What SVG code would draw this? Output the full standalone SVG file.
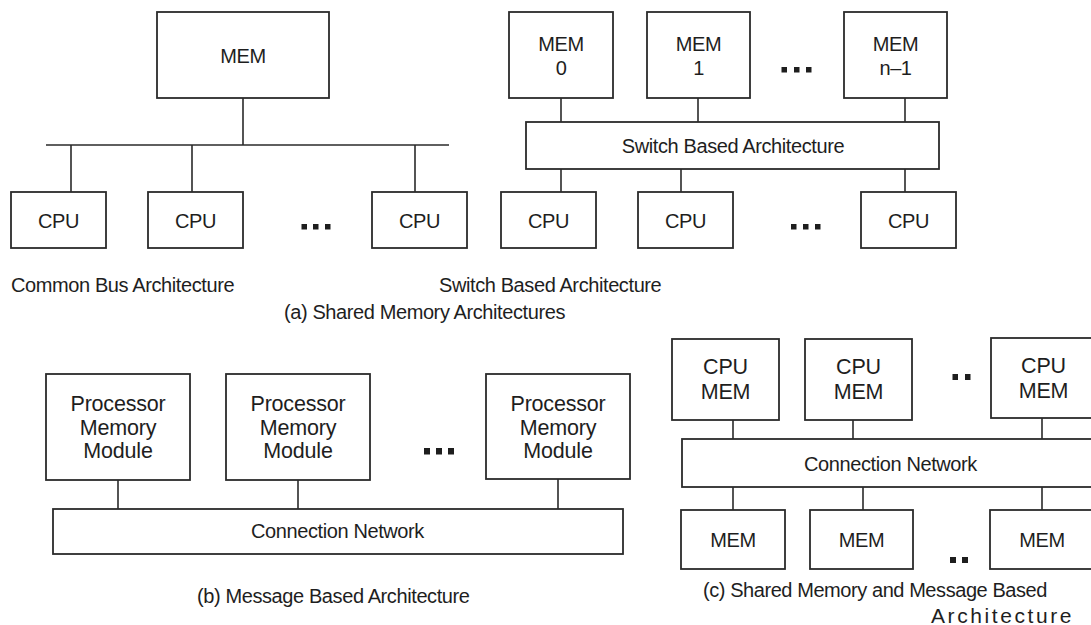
<svg xmlns="http://www.w3.org/2000/svg" width="1091" height="625" viewBox="0 0 1091 625">
  <style>
    .box { fill: #ffffff; stroke: #2b2b2b; stroke-width: 1.8; }
    .wire { fill: none; stroke: #2b2b2b; stroke-width: 1.6; }
    .dot { fill: #1e1e1e; }
    text { font-family: "Liberation Sans", Arial, Helvetica, sans-serif; fill: #1e1e1e; font-size: 20px; letter-spacing: -0.4px; }
    .c { text-anchor: middle; }
    .big { font-size: 21.5px; letter-spacing: -0.2px; }
  </style>
  <rect width="1091" height="625" fill="#ffffff"/>

  <!-- connectors -->
  <g id="connectors" class="wire">
    <!-- common bus -->
    <path d="M243 98V145 M46 145H449 M71 145V192 M192 145V192 M415 145V192"/>
    <!-- switch based -->
    <path d="M561 98V122 M698 98V122 M905 98V122 M561 169V192 M681 169V192 M905 169V192"/>
    <!-- message based -->
    <path d="M118 480V509 M298 480V509 M558 479V509"/>
    <!-- shared memory and message based -->
    <path d="M733 420V439 M853 420V439 M1042 418V439 M733 487V510 M863 487V510 M1042 487V510"/>
  </g>

  <!-- (a) common bus architecture -->
  <g id="bus-mem"><rect class="box" x="157" y="12" width="172" height="86"/><text class="c" x="243" y="63">MEM</text></g>
  <g id="bus-cpu-1"><rect class="box" x="11" y="192" width="95" height="56"/><text class="c" x="58.5" y="228">CPU</text></g>
  <g id="bus-cpu-2"><rect class="box" x="148" y="192" width="95" height="56"/><text class="c" x="195.5" y="228">CPU</text></g>
  <g id="bus-cpu-n"><rect class="box" x="372" y="192" width="95" height="56"/><text class="c" x="419.5" y="228">CPU</text></g>
  <g id="bus-dots"><rect class="dot" x="301.5" y="224" width="5.5" height="5.5"/><rect class="dot" x="313" y="224" width="5.5" height="5.5"/><rect class="dot" x="325" y="224" width="5.5" height="5.5"/></g>
  <text x="11" y="292">Common Bus Architecture</text>

  <!-- (a) switch based architecture -->
  <g id="sw-mem-0"><rect class="box" x="509" y="12" width="104" height="86"/><text class="c" x="561" y="51">MEM</text><text class="c" x="561" y="75">0</text></g>
  <g id="sw-mem-1"><rect class="box" x="647" y="12" width="103" height="86"/><text class="c" x="698.5" y="51">MEM</text><text class="c" x="698.5" y="75">1</text></g>
  <g id="sw-mem-n"><rect class="box" x="844" y="12" width="103" height="86"/><text class="c" x="895.5" y="51">MEM</text><text class="c" x="895.5" y="75">n–1</text></g>
  <g id="sw-mem-dots"><rect class="dot" x="781.5" y="67" width="5.5" height="5.5"/><rect class="dot" x="794" y="67" width="5.5" height="5.5"/><rect class="dot" x="806" y="67" width="5.5" height="5.5"/></g>
  <g id="switch"><rect class="box" x="526" y="122" width="413" height="47"/><text class="c" x="733" y="153">Switch Based Architecture</text></g>
  <g id="sw-cpu-1"><rect class="box" x="501" y="192" width="95" height="56"/><text class="c" x="548.5" y="228">CPU</text></g>
  <g id="sw-cpu-2"><rect class="box" x="638" y="192" width="95" height="56"/><text class="c" x="685.5" y="228">CPU</text></g>
  <g id="sw-cpu-n"><rect class="box" x="861" y="192" width="95" height="56"/><text class="c" x="908.5" y="228">CPU</text></g>
  <g id="sw-cpu-dots"><rect class="dot" x="791" y="224" width="5.5" height="5.5"/><rect class="dot" x="803" y="224" width="5.5" height="5.5"/><rect class="dot" x="815" y="224" width="5.5" height="5.5"/></g>
  <text x="439" y="292">Switch Based Architecture</text>
  <text x="284" y="319">(a) Shared Memory Architectures</text>

  <!-- (b) message based architecture -->
  <g id="pmm-1"><rect class="box" x="46" y="374" width="144" height="106"/><text class="c big" x="118" y="411">Processor</text><text class="c big" x="118" y="435">Memory</text><text class="c big" x="118" y="458">Module</text></g>
  <g id="pmm-2"><rect class="box" x="226" y="374" width="144" height="106"/><text class="c big" x="298" y="411">Processor</text><text class="c big" x="298" y="435">Memory</text><text class="c big" x="298" y="458">Module</text></g>
  <g id="pmm-n"><rect class="box" x="486" y="374" width="144" height="105"/><text class="c big" x="558" y="411">Processor</text><text class="c big" x="558" y="435">Memory</text><text class="c big" x="558" y="458">Module</text></g>
  <g id="pmm-dots"><rect class="dot" x="424" y="448" width="6" height="6.5"/><rect class="dot" x="436" y="448" width="6" height="6.5"/><rect class="dot" x="448" y="448" width="6" height="6.5"/></g>
  <g id="net-b"><rect class="box" x="53" y="509" width="570" height="45"/><text class="c" x="337.5" y="538">Connection Network</text></g>
  <text x="197" y="603">(b) Message Based Architecture</text>

  <!-- (c) shared memory and message based architecture -->
  <g id="cm-1"><rect class="box" x="672" y="339" width="107" height="81"/><text class="c big" x="725.5" y="374">CPU</text><text class="c big" x="725.5" y="399">MEM</text></g>
  <g id="cm-2"><rect class="box" x="805" y="339" width="107" height="81"/><text class="c big" x="858.5" y="374">CPU</text><text class="c big" x="858.5" y="399">MEM</text></g>
  <g id="cm-n"><rect class="box" x="991" y="338" width="106" height="80"/><text class="c big" x="1043.5" y="373">CPU</text><text class="c big" x="1043.5" y="398">MEM</text></g>
  <g id="cm-dots"><rect class="dot" x="952.5" y="374" width="5.5" height="6"/><rect class="dot" x="965" y="374" width="5.5" height="6"/></g>
  <g id="net-c"><rect class="box" x="682" y="439" width="415" height="48"/><text class="c" x="890.5" y="471">Connection Network</text></g>
  <g id="mem-1"><rect class="box" x="681" y="510" width="104" height="59"/><text class="c" x="733" y="547">MEM</text></g>
  <g id="mem-2"><rect class="box" x="810" y="510" width="103" height="59"/><text class="c" x="861.5" y="547">MEM</text></g>
  <g id="mem-n"><rect class="box" x="990" y="510" width="107" height="59"/><text class="c" x="1042" y="547">MEM</text></g>
  <g id="mem-dots"><rect class="dot" x="950" y="557" width="6" height="6"/><rect class="dot" x="962" y="557" width="6" height="6"/></g>
  <text x="703" y="597" textLength="344" lengthAdjust="spacing">(c) Shared Memory and Message Based</text>
  <text x="931" y="623" style="font-size:21px" textLength="140" lengthAdjust="spacing">Architecture</text>
</svg>
